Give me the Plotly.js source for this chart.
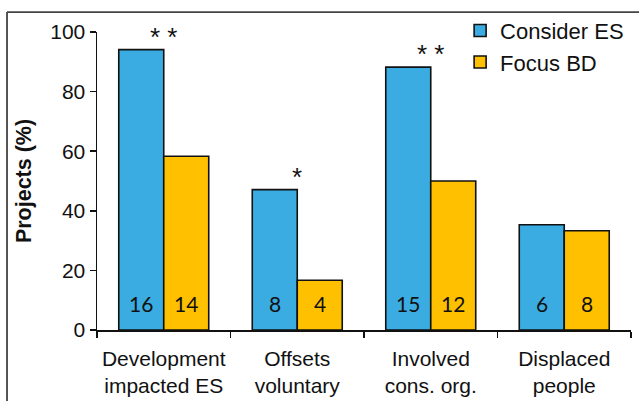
<!DOCTYPE html>
<html>
<head>
<meta charset="utf-8">
<script src="https://cdn.plot.ly/plotly-3.0.1.min.js"></script>
<style>
html, body { margin: 0; padding: 0; background: #fff; }
#chart { width: 639px; height: 401px; }
</style>
</head>
<body>
<div id="chart"></div>
<script>
const categories = ['Development<br>impacted ES', 'Offsets<br>voluntary', 'Involved<br>cons. org.', 'Displaced<br>people'];
const seriesNames = ['Consider ES', 'Focus BD'];
const considerES = [94.1, 47.1, 88.2, 35.3];
const focusBD = [58.3, 16.7, 50.0, 33.3];
const countES = [16, 8, 15, 6];
const countBD = [14, 4, 12, 8];
const significance = ['* *', '*', '* *', ''];
const yTicks = [0, 20, 40, 60, 80, 100];

const blue = '#3AACE1';
const gold = '#FFC000';
const bargap = 0.326;
const half = (1 - bargap) / 4;

const barLine = { color: '#111111', width: 1.6 };

const traces = [
  { type: 'bar', name: seriesNames[0], x: categories, y: considerES,
    marker: { color: blue, line: barLine }, legendgroup: 'a', hoverinfo: 'y' },
  { type: 'bar', name: seriesNames[1], x: categories, y: focusBD,
    marker: { color: gold, line: barLine }, legendgroup: 'b', hoverinfo: 'y' }
];

const annotations = [];
categories.forEach((c, i) => {
  annotations.push({ x: i - half, y: 9, xref: 'x', yref: 'y', text: String(countES[i]),
    showarrow: false, font: { family: 'Lato, sans-serif', size: 21, color: '#111' } });
  annotations.push({ x: i + half, y: 9, xref: 'x', yref: 'y', text: String(countBD[i]),
    showarrow: false, font: { family: 'Lato, sans-serif', size: 21, color: '#111' } });
  if (significance[i]) {
    annotations.push({ x: i, y: considerES[i], xref: 'x', yref: 'y', text: significance[i],
      showarrow: false, yanchor: 'bottom', yshift: -4,
      font: { family: 'Liberation Sans, Arial, sans-serif', size: 26, color: '#111' } });
  }
});

const layout = {
  width: 639, height: 401,
  margin: { l: 97, r: 8, t: 32, b: 71 },
  paper_bgcolor: '#fff', plot_bgcolor: '#fff',
  barmode: 'group', bargap: bargap, bargroupgap: 0,
  font: { family: 'Liberation Sans, Arial, sans-serif', color: '#111' },
  xaxis: {
    type: 'category', tickson: 'boundaries', ticks: 'outside', ticklen: 6, tickwidth: 1.5, tickcolor: '#111',
    showline: true, linecolor: '#111', linewidth: 1.5, showgrid: false, zeroline: false,
    tickfont: { size: 21, color: '#111' }, ticklabelstandoff: 9, fixedrange: true
  },
  yaxis: {
    range: [0, 100], tickvals: yTicks, ticktext: yTicks.map(String),
    ticks: 'outside', ticklen: 6, tickwidth: 1.5, tickcolor: '#111',
    showline: true, linecolor: '#111', linewidth: 1.5, showgrid: false, zeroline: false,
    tickfont: { size: 21, color: '#111' },
    title: { text: '<b>Projects (%)</b>', font: { size: 21.5, color: '#111' }, standoff: 12 }
  },
  legend: {
    x: 0.68, y: 1.075, xanchor: 'left', yanchor: 'top', bgcolor: 'rgba(0,0,0,0)',
    font: { size: 22, color: '#111' }, traceorder: 'grouped', tracegroupgap: 0,
    itemwidth: 30
  },
  showlegend: true,
  annotations: annotations,
  shapes: [
    { type: 'line', xref: 'paper', yref: 'paper', x0: -0.1685, x1: 1.2, y0: 1.067, y1: 1.067,
      line: { color: '#444', width: 1.8 }, layer: 'below' },
    { type: 'line', xref: 'paper', yref: 'paper', x0: -0.1685, x1: -0.1685, y0: 1.067, y1: -0.4,
      line: { color: '#444', width: 1.8 }, layer: 'below' }
  ]
};

Plotly.newPlot('chart', traces, layout, { displayModeBar: false, staticPlot: true });
</script>
</body>
</html>
